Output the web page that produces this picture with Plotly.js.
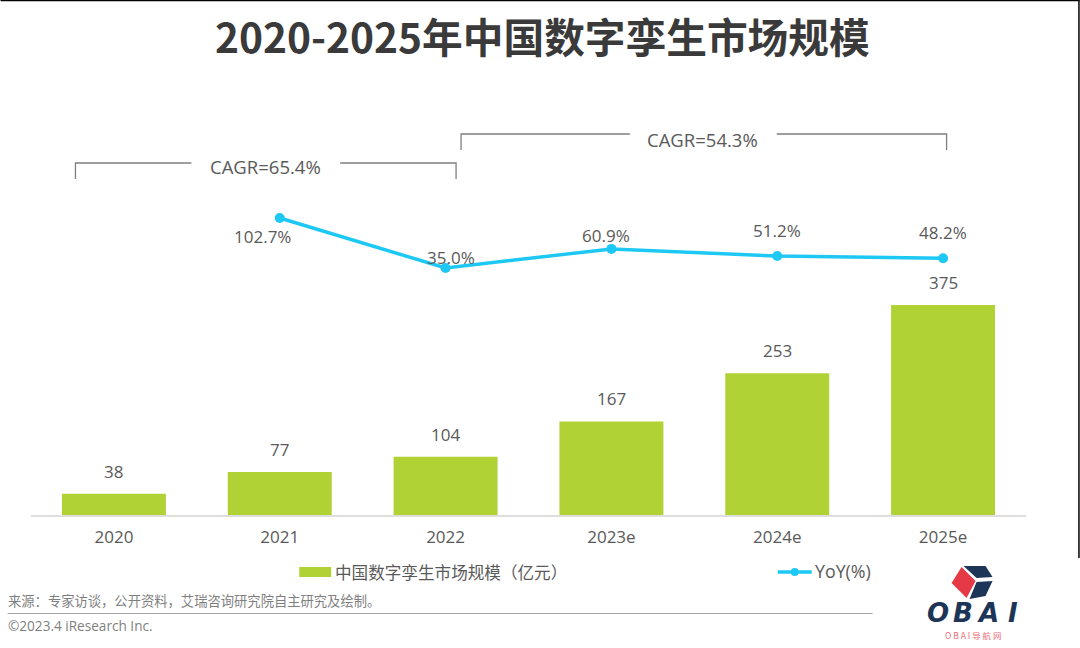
<!DOCTYPE html>
<html><head><meta charset="utf-8">
<script src="https://cdn.plot.ly/plotly-3.0.1.min.js"></script>
<style>html,body{margin:0;padding:0;background:#fff}#c{width:1080px;height:648px}</style>
</head><body><div id="c"></div>
<script>
const categories = ['2020','2021','2022','2023e','2024e','2025e'];
const marketSize = [38,77,104,167,253,375];
const yoyCategories = ['2021','2022','2023e','2024e','2025e'];
const yoy = [102.7,35.0,60.9,51.2,48.2];
const yoyLabels = ['102.7%','35.0%','60.9%','51.2%','48.2%'];
const titleText = '2020-2025年中国数字孪生市场规模';
const sourceText = '来源：专家访谈，公开资料，艾瑞咨询研究院自主研究及绘制。';
const copyrightText = '©2023.4 iResearch Inc.';

const FONT = '"Open Sans","Noto Sans CJK SC",sans-serif';
const CJK = '"Noto Sans CJK SC","Open Sans",sans-serif';
const GREEN = '#b0d235', CYAN = '#1ec8f5', TXT = '#595959', NAVY = '#1d3557', RED = '#e63946';
const L = 30.5, R = 1026.5, T = 100, B = 515;
const px = x => (x - L) / (R - L);
const py = y => (B - y) / (B - T);
const poly = pts => 'M' + pts.map(p => px(p[0]) + ',' + py(p[1])).join('L') + 'Z';
const seg = (pts, color, w) => ({type:'path', xref:'paper', yref:'paper',
  path:'M' + pts.map(p => px(p[0]) + ',' + py(p[1])).join('L'), line:{color:color, width:w}});
const fill = (pts, color) => ({type:'path', xref:'paper', yref:'paper', path:poly(pts),
  fillcolor:color, line:{width:0}});
const txt = (x, y, text, size, color, anchor, extra) => Object.assign({xref:'paper', yref:'paper',
  x:px(x), y:py(y), text:text, showarrow:false, xanchor:anchor||'center', yanchor:'middle',
  font:{size:size, color:color||TXT, family:FONT}}, extra||{});

const barTrace = {type:'bar', x:categories, y:marketSize, width:0.627, marker:{color:GREEN},
  hoverinfo:'x+y', name:'中国数字孪生市场规模（亿元）'};
const lineTrace = {type:'scatter', mode:'lines+markers', x:yoyCategories, y:yoy, yaxis:'y2',
  line:{color:CYAN, width:3.5}, marker:{color:CYAN, size:10}, name:'YoY(%)'};

const barLabels = categories.map((c,i) => ({xref:'x', yref:'y', x:i, y:marketSize[i], text:String(marketSize[i]),
  showarrow:false, yanchor:'bottom', yshift:9, font:{size:17, color:TXT, family:FONT}}));
const labelPos = [[262,236],[451,257],[606,235],[777,230.5],[943,232.5]];
const annotations = [
  ...barLabels,
  txt(265,166,'CAGR=65.4%',18.5), txt(703,139,'CAGR=54.3%',18.5),
  ...yoyLabels.map((t,i) => txt(labelPos[i][0], labelPos[i][1], t, 17)),
  txt(542.5,35,titleText,40.7,'#3a3a3a','center',{font:{size:40.7,color:'#3a3a3a',family:CJK,weight:700}}),
  txt(333,572,'中国数字孪生市场规模（亿元）',16.6,TXT,'left',{font:{size:16.6,color:TXT,family:CJK}}),
  txt(813,571,'YoY(%)',17.8,TXT,'left'),
  txt(5,600,sourceText,13.3,'#7f7f7f','left',{font:{size:13.3,color:'#7f7f7f',family:CJK}}),
  txt(5.5,625,copyrightText,13.6,'#7f7f7f','left'),
  ...['O','B','A','I'].map((c,i) => txt([938,963,988,1013][i],613,c,26,NAVY,'center',
      {font:{size:26,color:NAVY,family:'"DejaVu Sans"',weight:700,style:'italic'}})),
  txt(973,634.5,'O B A I 导 航 网',8.5,'#ee6d78','center',{font:{size:8.5,color:'#ee6d78',family:CJK}})
];

const shapes = [
  seg([[75,179],[75,163],[191,163]],'#7f7f7f',1.3),
  seg([[340,163],[456,163],[456,179]],'#7f7f7f',1.3),
  seg([[461,150],[461,134],[630,134]],'#7f7f7f',1.3),
  seg([[777,134],[947,134],[947,150]],'#7f7f7f',1.3),
  fill([[299,567],[331,567],[331,577],[299,577]],GREEN),
  seg([[778,572],[812,572]],CYAN,3.5),
  {type:'circle', xref:'paper', yref:'paper', x0:px(791), x1:px(799), y0:py(576), y1:py(568), fillcolor:CYAN, line:{width:0}},
  seg([[7,613.5],[873,613.5]],'#a6a6a6',1.2),
  seg([[0,0.5],[1080,0.5]],'#000',1.5),
  seg([[1079.5,0],[1079.5,558]],'#000',1.5),
  fill([[962,567],[952,583],[967,598],[976,581]],RED),
  fill([[964,566],[986,566],[993,577],[977,578]],NAVY),
  fill([[993,581],[986,596],[970,599],[977,582]],NAVY)
];

const layout = {
  width:1080, height:648, margin:{l:L, r:1080-R, t:T, b:648-B}, autosize:false,
  paper_bgcolor:'#fff', plot_bgcolor:'#fff', showlegend:false,
  font:{family:FONT, color:TXT, size:16},
  xaxis:{type:'category', categoryorder:'array', categoryarray:categories, range:[-0.5,5.5], showgrid:false,
    zeroline:false, showline:true, linecolor:'#dedede', linewidth:1.5, ticks:'', ticklen:0, ticklabelstandoff:6,
    tickfont:{size:17, color:TXT, family:FONT}},
  yaxis:{range:[0,741], visible:false, fixedrange:true},
  yaxis2:{overlaying:'y', side:'right', range:[-299.4,262.5], visible:false, fixedrange:true},
  shapes:shapes, annotations:annotations
};
Plotly.newPlot('c',[barTrace,lineTrace],layout,{displayModeBar:false,staticPlot:true});
</script></body></html>
